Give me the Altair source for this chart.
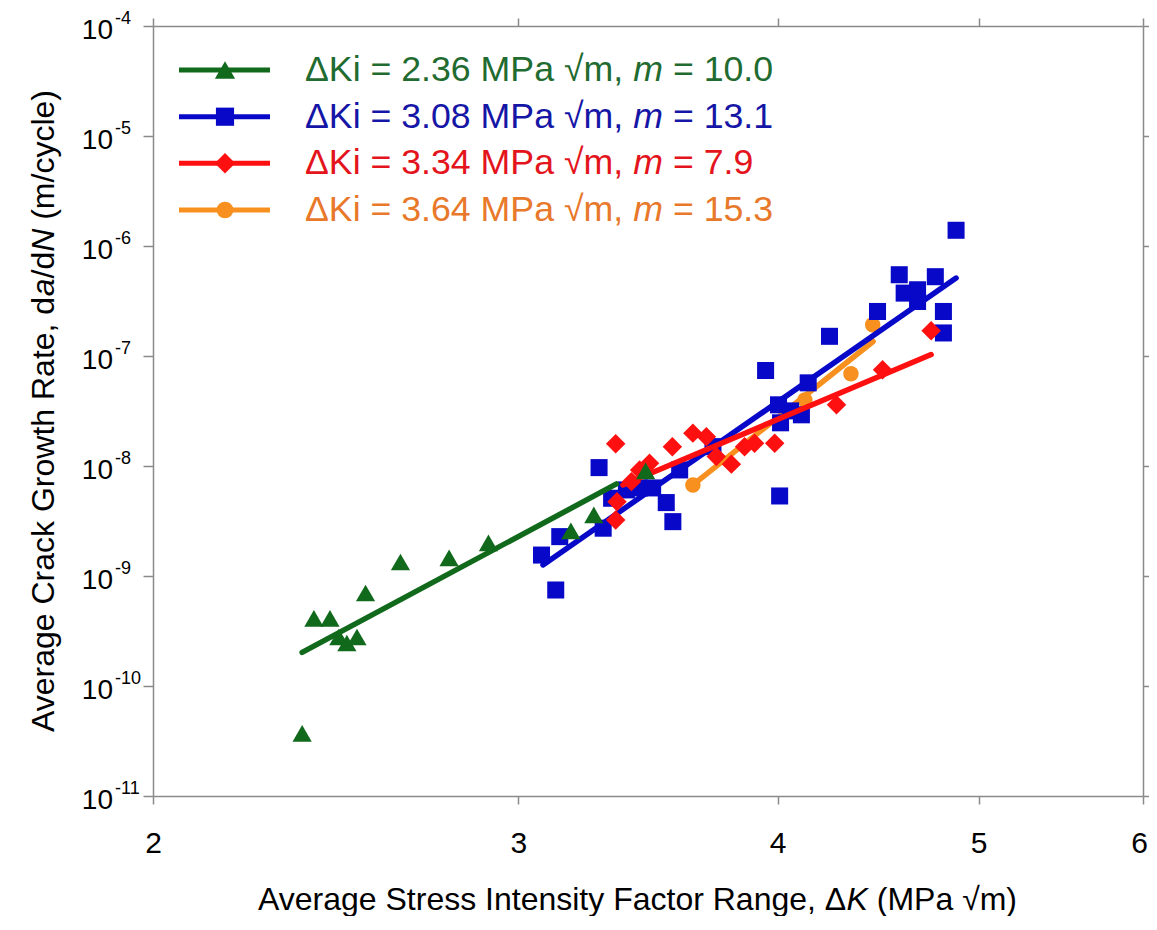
import altair as alt
import pandas as pd

FONT = "Liberation Sans"

# ---------------- data ----------------
green_dk = [2.360, 2.391, 2.434, 2.458, 2.480, 2.508, 2.532, 2.632, 2.778, 2.902, 3.180, 3.262, 3.455]
green_rate = [3.71e-11, 4.12e-10, 4.12e-10, 2.79e-10, 2.46e-10, 2.79e-10, 7.00e-10, 1.34e-9,
              1.46e-9, 2.00e-9, 2.57e-9, 3.59e-9, 9.02e-9]

blue_dk = [4.876, 4.578, 4.765, 4.603, 4.672, 4.672, 4.808, 4.808, 4.469, 4.237, 3.947, 4.138,
           4.004, 4.013, 4.058, 4.107, 4.009, 3.723, 3.588, 3.535, 3.561, 3.281, 3.327, 3.382,
           3.432, 3.482, 3.296, 3.141, 3.078, 3.127]
blue_rate = [1.39e-6, 5.48e-7, 5.26e-7, 3.73e-7, 4.00e-7, 3.13e-7, 2.54e-7, 1.62e-7, 2.54e-7,
             1.51e-7, 7.38e-8, 5.70e-8, 3.60e-8, 2.47e-8, 3.17e-8, 2.92e-8, 5.34e-9, 1.50e-8,
             9.21e-9, 4.65e-9, 3.12e-9, 9.67e-9, 5.09e-9, 6.06e-9, 6.32e-9, 6.32e-9, 2.72e-9,
             2.28e-9, 1.55e-9, 7.46e-10]

red_dk = [3.342, 3.559, 3.641, 3.696, 3.737, 3.800, 3.856, 3.899, 3.987, 4.270, 4.494, 4.743,
          3.347, 3.342, 3.401, 3.432, 3.470]
red_rate = [1.59e-8, 1.50e-8, 1.99e-8, 1.84e-8, 1.22e-8, 1.04e-8, 1.50e-8, 1.61e-8, 1.61e-8,
            3.60e-8, 7.49e-8, 1.70e-7, 4.74e-9, 3.23e-9, 7.21e-9, 9.21e-9, 1.06e-8]

orange_dk = [3.641, 4.123, 4.339, 4.445]
orange_rate = [6.73e-9, 3.99e-8, 6.89e-8, 1.92e-7]

# fitted power-law lines (end points)
green_fit_dk = [2.360, 3.345]
green_fit_rate = [2.02e-10, 6.87e-9]
blue_fit_dk = [3.083, 4.876]
blue_fit_rate = [1.26e-9, 5.11e-7]
red_fit_dk = [3.369, 4.743]
red_fit_rate = [6.73e-9, 1.03e-7]
orange_fit_dk = [3.641, 4.447]
orange_fit_rate = [6.73e-9, 1.355e-7]

# ticks / labels
x_ticks = [2, 3, 4, 5, 6]
y_ticks = [1e-4, 1e-5, 1e-6, 1e-7, 1e-8, 1e-9, 1e-10, 1e-11]
y_exps = ["-4", "-5", "-6", "-7", "-8", "-9", "-10", "-11"]

legend_dki = ["2.36", "3.08", "3.34", "3.64"]
legend_m = ["10.0", "13.1", "7.9", "15.3"]

x_title_parts = ["Average Stress Intensity Factor Range, \u0394", "K", "(MPa \u221am)"]
y_title_parts = ["Average Crack Growth Rate, d", "a", "/d", "N", "(m/cycle)"]

# ---------------- styling ----------------
GRAY = "#8a8a8a"
mark_colors = ["#11691c", "#0808c8", "#ff1010", "#f7901e"]
text_colors = ["#1f6b30", "#1616a6", "#e3141c", "#e8782a"]
shapes = ["triangle-up", "square", "diamond", "circle"]
sizes = [370, 290, 380, 240]

xscale = alt.Scale(type="log", domain=[x_ticks[0], x_ticks[-1]], nice=False)
yscale = alt.Scale(type="log", domain=[y_ticks[-1], y_ticks[0]], nice=False)

axis_common = dict(grid=False, domainColor=GRAY, tickColor=GRAY, domainWidth=1.5, tickWidth=1.5, title=None)
x_bottom = alt.Axis(orient="bottom", values=x_ticks, format="d", tickSize=8, labelFontSize=30,
                    labelFont=FONT, labelColor="black", labelPadding=39, labelBaseline="middle",
                    labelFlush=False, labelOverlap=False,
                    labelOffset={"condition": {"test": "datum.value == 6", "value": -4}, "value": 0},
                    **axis_common)
y_left = alt.Axis(orient="left", values=y_ticks, labels=False, tickSize=10, **axis_common)
x_top = alt.Axis(orient="top", values=x_ticks, labels=False, tickSize=8, **axis_common)
y_right = alt.Axis(orient="right", values=y_ticks, labels=False, tickSize=6, **axis_common)


def xy():
    return dict(x=alt.X("dk:Q", scale=xscale, axis=x_bottom),
                y=alt.Y("rate:Q", scale=yscale, axis=y_left))


def series_layers(dk, rate, fdk, frate, i):
    pts = pd.DataFrame({"dk": dk, "rate": rate})
    fit = pd.DataFrame({"dk": fdk, "rate": frate})
    line = alt.Chart(fit).mark_line(color=mark_colors[i], strokeWidth=5.5, strokeCap="round").encode(**xy())
    points = alt.Chart(pts).mark_point(shape=shapes[i], filled=True, size=sizes[i], color=mark_colors[i],
                                       opacity=1, strokeWidth=0).encode(**xy())
    return [line, points]


def text_layer(t, x, y, size, color="black", italic=False, angle=0, align="left", baseline="alphabetic"):
    kw = dict(font=FONT, fontSize=size, color=color, align=align, baseline=baseline)
    if italic:
        kw["fontStyle"] = "italic"
    if angle:
        kw["angle"] = angle
    return alt.Chart(pd.DataFrame({"t": [t]})).mark_text(**kw).encode(
        x=alt.value(x), y=alt.value(y), text="t:N")


layers = []
layers += series_layers(orange_dk, orange_rate, orange_fit_dk, orange_fit_rate, 3)
layers += series_layers(blue_dk, blue_rate, blue_fit_dk, blue_fit_rate, 1)
layers += series_layers(red_dk, red_rate, red_fit_dk, red_fit_rate, 2)
layers += series_layers(green_dk, green_rate, green_fit_dk, green_fit_rate, 0)

# y tick labels as 10 with superscript exponent
ylab = pd.DataFrame({"rate": y_ticks, "base": ["10"] * len(y_ticks), "exp": y_exps})
layers.append(alt.Chart(ylab).mark_text(font=FONT, fontSize=28, align="right", baseline="middle", dy=5,
                                        color="black").encode(
    x=alt.value(-40), y=alt.Y("rate:Q", scale=yscale, axis=y_left), text="base:N"))
layers.append(alt.Chart(ylab).mark_text(font=FONT, fontSize=18, align="left", baseline="middle", dy=-7,
                                        color="black").encode(
    x=alt.value(-38), y=alt.Y("rate:Q", scale=yscale, axis=y_left), text="exp:N"))

# x title (with italic K)
XT_Y = 884
layers.append(text_layer(x_title_parts[0], 105, XT_Y, 32))
layers.append(text_layer(x_title_parts[1], 693.6, XT_Y, 32, italic=True))
layers.append(text_layer(x_title_parts[2], 723.8, XT_Y, 32))

# y title (rotated, italic a and N)
YT_X = -109
y_starts = [706, 270.3, 252.5, 225.8, 193.8]
y_italic = [False, True, False, True, False]
for part, ys, it in zip(y_title_parts, y_starts, y_italic):
    layers.append(text_layer(part, YT_X, ys, 32, italic=it, angle=270, baseline="middle"))

# legend
LFS = 35.7
rows = [44, 90.7, 137.3, 184]
for i in range(4):
    r = rows[i]
    ldf = pd.DataFrame({"t": [legend_dki[i]]})
    layers.append(alt.Chart(ldf).mark_rule(color=mark_colors[i], strokeWidth=5).encode(
        x=alt.value(26), x2=alt.value(117), y=alt.value(r)))
    layers.append(alt.Chart(ldf).mark_point(shape=shapes[i], filled=True, size=sizes[i] + 40,
                                            color=mark_colors[i], opacity=1, strokeWidth=0).encode(
        x=alt.value(72), y=alt.value(r)))
    layers.append(text_layer("\u0394Ki = " + legend_dki[i] + " MPa \u221am,", 152, r, LFS,
                             color=text_colors[i], baseline="middle"))
    layers.append(text_layer("m", 480.2, r, LFS, color=text_colors[i], italic=True, baseline="middle"))
    layers.append(text_layer("= " + legend_m[i], 519.9, r, LFS, color=text_colors[i], baseline="middle"))

inner = alt.layer(*layers)

frame = alt.Chart(pd.DataFrame({"dk": orange_dk, "rate": orange_rate})).mark_point(opacity=0).encode(
    x=alt.X("dk:Q", scale=xscale, axis=x_top),
    y=alt.Y("rate:Q", scale=yscale, axis=y_right))

chart = alt.layer(inner, frame).resolve_axis(x="independent", y="independent").properties(
    width=990, height=770,
    padding={"left": 145, "top": 18, "right": 6, "bottom": 120},
    autosize=alt.AutoSizeParams(type="none"),
    background="white",
).configure_view(stroke=None)

chart.save("out.html", embed_options={"renderer": "svg", "actions": False})
